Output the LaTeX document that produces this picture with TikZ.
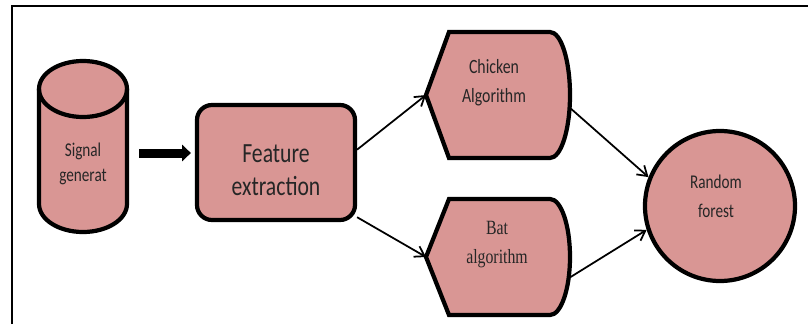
\documentclass[tikz,border=0pt]{standalone}
\usepackage{graphicx}
\usepackage{fontspec}
\setmainfont{Carlito}
\newfontfamily\batfont{Liberation Serif}
\usetikzlibrary{arrows.meta}
\definecolor{boxpink}{RGB}{217,150,148}
\newcommand{\twoline}[2]{\scalebox{1}[1.28]{\begin{tabular}{@{}c@{}}#1\\#2\end{tabular}}}
\begin{document}
\begin{tikzpicture}[x = 0.03cm, y = 0.03cm,
	blk/.style = {draw = black, line width = 3.6pt, fill = boxpink},
	lnk/.style = {-{Straight Barb[length = 2.8mm, width = 3.6mm]}, line width = 1.5pt},
	fat/.style = {-{Triangle[length = 2.6mm, width = 4.8mm]}, line width = 2.7mm},
	lbl/.style = {inner sep = 0pt, text = black!85}]
	\useasboundingbox (0,0) rectangle (808,324);
	\draw [line width = 1.7pt] (12,0) -- (12,318) -- (808,318);
	\draw [blk] (39,235) -- (39,120) arc (180:360:44 and 28) -- (127,235) arc (0:180:44 and 28) -- cycle;
	\draw [line width = 3.6pt] (39,235) arc (180:360:44 and 28);
	\node [lbl, font = \fontsize{13}{16.5}\selectfont] (sig) at (83,160) {\twoline{Signal}{generat}};
	\node [blk, rounded corners = 4.5mm, minimum width = 4.74cm, minimum height = 3.45cm] (fe) at (276,161.5) {};
	\node [lbl, font = \fontsize{18.5}{22}\selectfont] (fetxt) at (276,152) {\twoline{Feature}{extraction}};
	\foreach \n/\yc/\h in {chk/229/63, bat/67/58}{
	\draw [blk] (449,\yc+\h) -- (550,\yc+\h) arc (90:-90:20 and \h) -- (449,\yc-\h) -- (426,\yc) -- cycle;
	\coordinate (\n-in) at (426,\yc);
	}
	\coordinate (chk-out) at (569,217);
	\coordinate (bat-out) at (569,46);
	\node [lbl, font = \fontsize{13.5}{20}\selectfont] (chktxt) at (494,242) {\twoline{Chicken}{Algorithm}};
	\node [lbl, font = \batfont\fontsize{13.5}{19.5}\selectfont] (battxt) at (497,81) {\twoline{Bat}{algorithm}};
	\node [blk, circle, minimum size = 4.5cm] (rf) at (720,118) {};
	\node [lbl, font = \fontsize{13}{20}\selectfont] (rftxt) at (716,127) {\twoline{Random}{forest}};
	\coordinate (sigout) at (139,171);
	\draw [fat] (sigout) -- ([xshift = -1.2mm]sigout -| fe.west);
	\draw [lnk] (fe.9) -- (chk-in);
	\draw [lnk] (fe.-34) -- (bat-in);
	\draw [lnk] (chk-out) -- (rf.158);
	\draw [lnk] (bat-out) -- (rf.198);
\end{tikzpicture}
\end{document}
